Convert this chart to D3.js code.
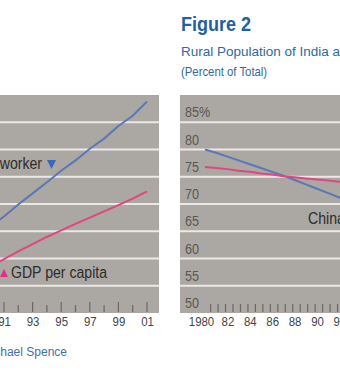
<!DOCTYPE html>
<html lang="en">
<head>
<meta charset="utf-8" />
<script src="https://cdn.jsdelivr.net/npm/d3@7"></script>
<style>
    body { margin: 0; background: #fff; }
    svg text { font-family: "Liberation Sans", Arial, sans-serif; }
</style>
</head>
<body>
<script>
    // Figure 1 (left, cut off): index values, years 1990-2001
    var yearsL = [1990, 1991, 1992, 1993, 1994, 1995, 1996, 1997, 1998, 1999, 2000, 2001];
    var outputPerWorker = [111.6, 115.4, 119.8, 123.9, 128.0, 132.2, 136.0, 140.3, 144.0, 148.6, 152.4, 157.6];
    var gdpPerCapita = [96.8, 99.8, 102.6, 105.3, 107.9, 110.3, 112.7, 115.0, 117.3, 119.6, 122.0, 124.6];
    var tickLabelsL = ["91", "93", "95", "97", "99", "01"];

    // Figure 2 (right): rural population, percent of total
    var yearsR = [1980, 1981, 1982, 1983, 1984, 1985, 1986, 1987, 1988, 1989, 1990, 1991, 1992, 1993];
    var china = [80.0, 79.4, 78.7, 78.0, 77.3, 76.6, 75.9, 75.2, 74.4, 73.6, 72.8, 72.0, 71.2, 70.4];
    var india = [76.8, 76.6, 76.4, 76.1, 75.9, 75.6, 75.4, 75.1, 74.9, 74.7, 74.5, 74.3, 74.1, 73.9];
    var tickLabelsR = ["1980", "82", "84", "86", "88", "90", "92"];
    var yTicksR = [50, 55, 60, 65, 70, 75, 80, 85];

    var W = 340, H = 370;
    var grey = "#aba7a3", grid = "#ebe9e7", blue = "#5b78b6", pink = "#e2457f";
    var titleBlue = "#23609e", subBlue = "#2f68a4", ink = "#2e2c2a";

    var svg = d3.select("body").append("svg")
        .attr("width", W).attr("height", H);

    var plotTop = 95, plotBottom = 313;

    // squeeze text horizontally, the original uses a condensed face
    function narrow(sel, k) {
        sel.each(function () {
            var w = this.getComputedTextLength();
            d3.select(this).attr("textLength", w * k).attr("lengthAdjust", "spacingAndGlyphs");
        });
    }

    // ---------- left panel ----------
    var xL = d3.scaleLinear().domain([1991, 2001]).range([4, 147]);
    var yL = d3.scaleLinear().domain([80, 160]).range([plotBottom, plotTop]);

    var left = svg.append("g");
    left.append("rect").attr("x", 0).attr("y", plotTop)
        .attr("width", 159).attr("height", plotBottom - plotTop).attr("fill", grey);

    left.selectAll(".grid").data(d3.range(90, 160, 10)).enter().append("line")
        .attr("x1", 0).attr("x2", 159)
        .attr("y1", function (d) { return yL(d); }).attr("y2", function (d) { return yL(d); })
        .attr("stroke", grid).attr("stroke-width", 2);

    left.selectAll(".tick").data(d3.range(1991, 2002)).enter().append("line")
        .attr("x1", function (d) { return xL(d); }).attr("x2", function (d) { return xL(d); })
        .attr("y1", function (d) { return d % 2 ? plotBottom - 11 : plotBottom - 8; }).attr("y2", plotBottom - 1)
        .attr("stroke", "#6b6865").attr("stroke-width", 1.2);

    var lineL = function (vals) {
        return d3.line()
            .x(function (d, i) { return xL(yearsL[i]); })
            .y(function (d) { return yL(d); })(vals);
    };
    left.append("path").attr("d", lineL(outputPerWorker))
        .attr("fill", "none").attr("stroke", blue).attr("stroke-width", 2);
    left.append("path").attr("d", lineL(gdpPerCapita))
        .attr("fill", "none").attr("stroke", pink).attr("stroke-width", 2);

    left.append("g").attr("transform", "translate(0," + plotBottom + ")")
        .call(d3.axisBottom(xL).tickValues([1991, 1993, 1995, 1997, 1999, 2001])
            .tickSize(0).tickPadding(4)
            .tickFormat(function (d, i) { return tickLabelsL[i]; }))
        .call(function (g) { g.select(".domain").remove(); })
        .selectAll("text").attr("font-size", 13).attr("fill", "#444").call(narrow, 0.88);

    left.append("text").attr("x", 42).attr("y", 169).attr("text-anchor", "end")
        .attr("font-size", 16).attr("fill", ink).text("Output per worker").call(narrow, 0.88);
    left.append("path").attr("d", "M47,160L56,160L51.5,169Z").attr("fill", "#3a68c0");

    left.append("path").attr("d", "M0,277L8,277L4,269Z").attr("fill", "#ea2a86");
    left.append("text").attr("x", 11).attr("y", 278)
        .attr("font-size", 16).attr("fill", ink).text("GDP per capita").call(narrow, 0.88);

    left.append("text").attr("x", 67).attr("y", 356).attr("text-anchor", "end")
        .attr("font-size", 12).attr("fill", "#3f6fa6").text("Source: Michael Spence");

    // ---------- right panel ----------
    var xR = d3.scaleLinear().domain([1980, 1992]).range([205, 339.4]);
    var yR = d3.scaleLinear().domain([50, 90]).range([plotBottom, plotTop]);

    var right = svg.append("g");
    right.append("rect").attr("x", 180).attr("y", plotTop)
        .attr("width", 200).attr("height", plotBottom - plotTop).attr("fill", grey);

    right.selectAll(".grid").data(d3.range(55, 90, 5)).enter().append("line")
        .attr("x1", 180).attr("x2", 360)
        .attr("y1", function (d) { return yR(d); }).attr("y2", function (d) { return yR(d); })
        .attr("stroke", grid).attr("stroke-width", 2);

    right.selectAll(".ylab").data(yTicksR).enter().append("text")
        .attr("x", 185).attr("y", function (d) { return yR(d) - 5; })
        .attr("font-size", 14).attr("fill", "#5a5753")
        .text(function (d) { return d === 85 ? "85%" : d; })
        .call(narrow, 0.9);

    right.selectAll(".tick").data(d3.range(1980.5, 1993, 2 / 3)).enter().append("line")
        .attr("x1", function (d) { return xR(d); }).attr("x2", function (d) { return xR(d); })
        .attr("y1", plotBottom - 9).attr("y2", plotBottom - 1)
        .attr("stroke", "#6b6865").attr("stroke-width", 1.2);

    var lineR = function (vals) {
        return d3.line()
            .x(function (d, i) { return xR(yearsR[i]); })
            .y(function (d) { return yR(d); })(vals);
    };
    right.append("path").attr("d", lineR(china))
        .attr("fill", "none").attr("stroke", blue).attr("stroke-width", 2);
    right.append("path").attr("d", lineR(india))
        .attr("fill", "none").attr("stroke", pink).attr("stroke-width", 2);

    right.append("g").attr("transform", "translate(0," + plotBottom + ")")
        .call(d3.axisBottom(xR).tickValues([1980, 1982, 1984, 1986, 1988, 1990, 1992])
            .tickSize(0).tickPadding(4)
            .tickFormat(function (d, i) { return tickLabelsR[i]; }))
        .call(function (g) { g.select(".domain").remove(); })
        .selectAll("text").attr("font-size", 13).attr("fill", "#444")
        .attr("dx", function (d) { return d === 1980 ? -4 : 0; })
        .call(narrow, 0.88);

    right.append("text").attr("x", 308).attr("y", 224)
        .attr("font-size", 16).attr("fill", ink).text("China").call(narrow, 0.88);

    right.append("text").attr("x", 181).attr("y", 31)
        .attr("font-size", 20).attr("font-weight", "bold").attr("fill", titleBlue).text("Figure 2").call(narrow, 0.9);
    right.append("text").attr("x", 181).attr("y", 56)
        .attr("font-size", 13.5).attr("fill", subBlue).text("Rural Population of India and China");
    right.append("text").attr("x", 181).attr("y", 76)
        .attr("font-size", 13.5).attr("fill", subBlue).text("(Percent of Total)").call(narrow, 0.84);
</script>
</body>
</html>
